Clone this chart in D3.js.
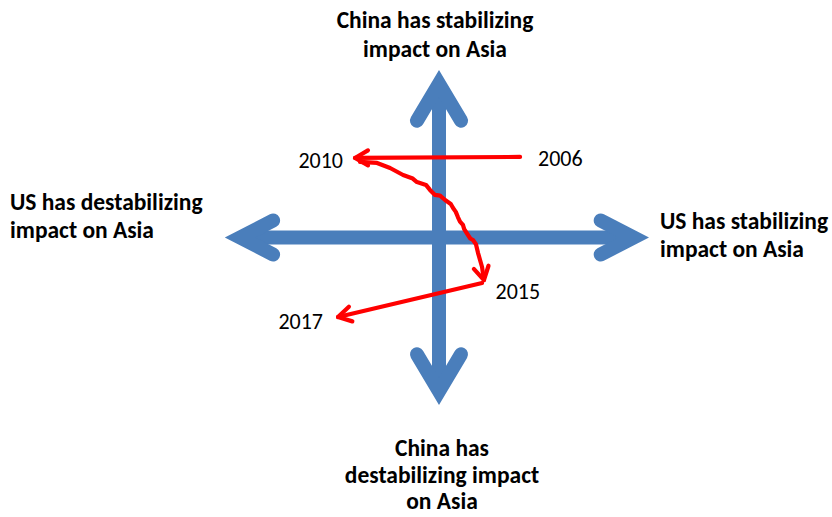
<!DOCTYPE html>
<html>
<head>
<meta charset="utf-8">
<script src="https://cdn.jsdelivr.net/npm/d3@7"></script>
<style>
  html, body { margin: 0; padding: 0; background: #fff; }
  svg { display: block; font-family: Carlito, Calibri, Lato, sans-serif; }
</style>
</head>
<body>
<script>
const [W, H] = [832, 517];
const BLUE = '#4a7ebb';
const RED = '#ff0000';

// the two axes, in diagram units (-100..100 on both directions)
const axisEnds = [
    { from: [-102, 0], to: [100, 0] },
    { from: [0, -100], to: [0, 100] }
];

// captions on each end of the axes
const topCaption = ['China has stabilizing', 'impact on Asia'];
const bottomCaption = ['China has', 'destabilizing impact', 'on Asia'];
const leftCaption = ['US has destabilizing', 'impact on Asia'];
const rightCaption = ['US has stabilizing', 'impact on Asia'];

// yearly positions of the trajectory
const years = ['2006', '2010', '2015', '2017'];
const yearX = [38.6, -40.0, 21.2, -48.1];
const yearY = [48.1, 47.5, -26.3, -47.5];

// hand drawn wobbly stretch from 2010 to 2015
const wobbleX = [-37.6, -29.5, -23.3, -17.1, -12.5, -10.5, -6.2, -4.3, -1.9, 0.5, 2.9, 5.6, 6.7, 8.0, 9.0, 10.0, 11.4, 12.0, 13.8, 14.9, 16.2, 17.6, 18.6, 20.5, 21.4];
const wobbleY = [45.1, 44.5, 41.5, 37.3, 35.2, 33.1, 31.4, 28.4, 25.4, 25.0, 22.4, 20.0, 17.6, 15.3, 12.2, 9.5, 7.5, 5.0, 1.5, -0.6, -1.5, -4.0, -9.3, -17.6, -25.4];

const xScale = d3.scaleLinear().domain([-100, 100]).range([229, 649]);
const yScale = d3.scaleLinear().domain([-100, 100]).range([405, 70]);

const svg = d3.select('body').append('svg').attr('width', W).attr('height', H);

// ---- blue axes with chevron heads
const SHAFT_W = 14;
function chevron(tip, dir, len, half, w) {
    const sinT = half / Math.hypot(len, half);
    const e = (w / 2) / sinT;
    const c = [tip[0] - dir[0] * e, tip[1] - dir[1] * e];
    const perp = [-dir[1], dir[0]];
    const b = [c[0] - dir[0] * len, c[1] - dir[1] * len];
    return {
        c,
        d: d3.line()([[b[0] + perp[0] * half, b[1] + perp[1] * half], c, [b[0] - perp[0] * half, b[1] - perp[1] * half]])
    };
}

const gAxes = svg.append('g');
axisEnds.forEach(a => {
    const p0 = [xScale(a.from[0]), yScale(a.from[1])];
    const p1 = [xScale(a.to[0]), yScale(a.to[1])];
    const horizontal = a.from[1] === a.to[1];
    const len = horizontal ? 33 : 37;
    const half = horizontal ? 17 : 22;
    const L = Math.hypot(p1[0] - p0[0], p1[1] - p0[1]);
    const dir = [(p1[0] - p0[0]) / L, (p1[1] - p0[1]) / L];
    const h1 = chevron(p1, dir, len, half, SHAFT_W);
    const h0 = chevron(p0, [-dir[0], -dir[1]], len, half, SHAFT_W);
    gAxes.append('path')
        .attr('d', d3.line()([h0.c, h1.c]))
        .attr('stroke', BLUE).attr('stroke-width', SHAFT_W).attr('fill', 'none');
    [h0, h1].forEach(h => {
        gAxes.append('path')
            .attr('d', h.d)
            .attr('fill', 'none')
            .attr('stroke', BLUE)
            .attr('stroke-width', SHAFT_W)
            .attr('stroke-linejoin', 'miter')
            .attr('stroke-linecap', 'round');
    });
});

// ---- red trajectory
const gRed = svg.append('g')
    .attr('fill', 'none')
    .attr('stroke', RED)
    .attr('stroke-width', 4.2)
    .attr('stroke-linecap', 'round')
    .attr('stroke-linejoin', 'round');

const pt = i => [xScale(yearX[i]), yScale(yearY[i])];
const wobble = wobbleX.map((x, i) => [xScale(x), yScale(wobbleY[i])]);

const legs = [
    [pt(0), pt(1)],
    wobble,
    [[xScale(20.5), yScale(-27.2)], pt(3)]
];

function redHead(a, b) {
    const L = Math.hypot(b[0] - a[0], b[1] - a[1]);
    const dir = [(b[0] - a[0]) / L, (b[1] - a[1]) / L];
    const ang = Math.PI / 6, len = 15;
    const rot = s => [
        b[0] - len * (dir[0] * Math.cos(ang) - s * dir[1] * Math.sin(ang)),
        b[1] - len * (dir[1] * Math.cos(ang) + s * dir[0] * Math.sin(ang))
    ];
    return d3.line()([rot(1), b, rot(-1)]);
}

legs.forEach(pts => {
    gRed.append('path').attr('d', d3.line()(pts));
    const n = pts.length;
    const back = n > 2 ? pts[n - 3] : pts[n - 2];
    gRed.append('path').attr('d', redHead(back, pts[n - 1]));
});

// ---- year labels
const yearOffsets = [
    { dx: 18, dy: 9, anchor: 'start' },
    { dx: -12, dy: 10, anchor: 'end' },
    { dx: 12, dy: 17, anchor: 'start' },
    { dx: -15, dy: 12, anchor: 'end' }
];
svg.append('g').selectAll('text')
    .data(years)
    .enter()
    .append('text')
    .attr('x', (d, i) => pt(i)[0] + yearOffsets[i].dx)
    .attr('y', (d, i) => pt(i)[1] + yearOffsets[i].dy)
    .attr('text-anchor', (d, i) => yearOffsets[i].anchor)
    .style('font-size', '22px')
    .attr('fill', '#000')
    .text(d => d);

// ---- captions
function caption(lines, x, y0, lh, anchor) {
    svg.append('g').selectAll('text')
        .data(lines)
        .enter()
        .append('text')
        .attr('x', x)
        .attr('y', (d, i) => y0 + i * lh)
        .attr('text-anchor', anchor)
        .style('font-size', '23.5px')
        .style('font-weight', 'bold')
        .attr('fill', '#000')
        .text(d => d);
}
caption(topCaption, 435, 28, 29, 'middle');
caption(bottomCaption, 442, 456, 26.5, 'middle');
caption(leftCaption, 10, 210, 28, 'start');
caption(rightCaption, 660, 229, 28, 'start');
</script>
</body>
</html>
